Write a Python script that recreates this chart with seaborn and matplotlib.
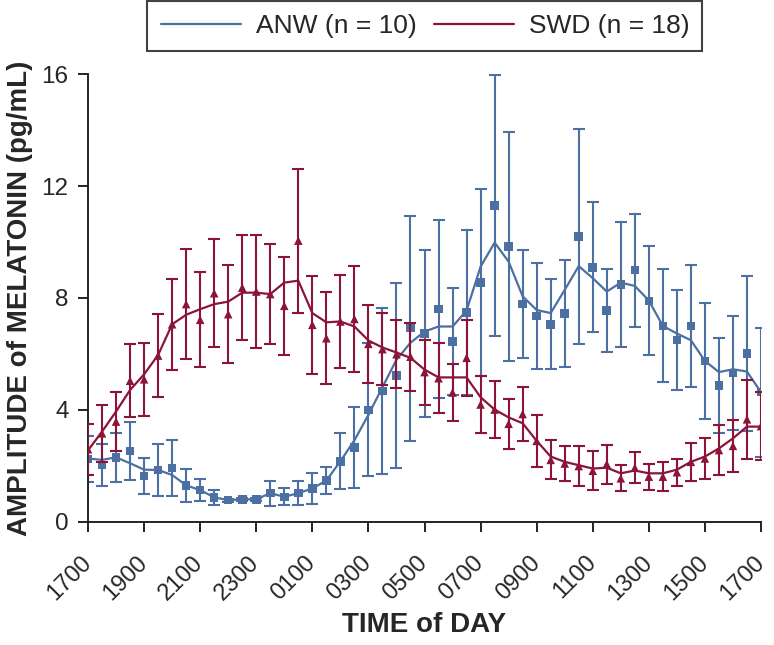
import numpy as np
import pandas as pd
import matplotlib
matplotlib.use("Agg")
import matplotlib.pyplot as plt
import seaborn as sns

# ---------------- data ----------------
tick_labels = ["1700", "1900", "2100", "2300", "0100", "0300", "0500",
               "0700", "0900", "1100", "1300", "1500", "1700"]
# half-hour samples from 1700 to 1700 next day (49 points)
anw_mean = [2.24, 2.03, 2.30, 2.53, 1.63, 1.85, 1.92, 1.29, 1.13, 0.87,
            0.77, 0.80, 0.80, 1.02, 0.89, 1.02, 1.19, 1.47, 2.16, 2.65,
            4.00, 4.67, 5.22, 6.92, 6.73, 7.60, 6.44, 7.49, 8.56, 11.31,
            9.84, 7.78, 7.36, 7.06, 7.45, 10.20, 9.10, 7.55, 8.49, 9.00,
            7.90, 7.00, 6.49, 7.00, 5.75, 4.87, 5.32, 6.01, 4.63]
anw_sem = [0.82, 0.76, 0.88, 1.04, 0.64, 0.92, 0.99, 0.60, 0.38, 0.27,
           0.05, 0.05, 0.05, 0.45, 0.30, 0.42, 0.55, 0.49, 1.00, 1.45,
           2.38, 2.98, 3.31, 4.02, 2.98, 3.18, 1.91, 2.95, 3.34, 4.68,
           4.11, 1.94, 1.90, 1.61, 1.92, 3.83, 2.33, 1.47, 2.24, 2.02,
           1.95, 2.02, 1.79, 2.19, 2.07, 1.71, 2.03, 2.77, 2.30]
anw_fit = [2.26, 2.21, 2.30, 2.09, 1.86, 1.85, 1.67, 1.30, 1.13, 0.87,
           0.77, 0.80, 0.80, 1.02, 0.89, 1.02, 1.19, 1.47, 2.16, 2.91,
           3.82, 4.81, 5.79, 6.40, 6.80, 6.98, 6.98, 7.55, 9.12, 9.98,
           9.30, 8.06, 7.57, 7.46, 8.29, 9.14, 8.71, 8.23, 8.55, 8.43,
           7.91, 7.00, 6.73, 6.49, 5.75, 5.35, 5.45, 5.37, 4.63]

swd_mean = [2.59, 3.16, 3.58, 5.04, 5.09, 5.94, 7.06, 7.78, 7.22, 8.17,
            7.42, 8.37, 8.23, 8.14, 7.72, 10.05, 7.04, 6.56, 7.16, 7.25,
            6.36, 6.17, 5.99, 5.90, 5.35, 5.13, 4.62, 5.86, 4.19, 4.01,
            3.50, 3.85, 2.89, 2.21, 2.08, 1.99, 1.82, 2.06, 1.55, 1.93,
            1.61, 1.61, 1.77, 2.14, 2.26, 2.56, 2.71, 3.66, 3.42]
swd_sem = [0.91, 1.03, 1.06, 1.31, 1.31, 1.49, 1.62, 1.96, 1.70, 1.93,
           1.76, 1.87, 2.02, 1.78, 1.75, 2.58, 1.75, 1.65, 1.66, 1.91,
           1.40, 1.28, 1.21, 1.22, 1.16, 1.26, 1.03, 1.37, 1.02, 1.03,
           0.90, 0.95, 0.94, 0.70, 0.61, 0.70, 0.69, 0.70, 0.47, 0.55,
           0.46, 0.51, 0.48, 0.69, 0.73, 0.89, 0.92, 1.42, 1.23]
swd_fit = [2.55, 3.22, 3.94, 4.71, 5.27, 5.96, 7.06, 7.40, 7.60, 7.78,
           7.87, 8.19, 8.19, 8.14, 8.55, 8.62, 7.46, 7.13, 7.16, 6.98,
           6.48, 6.23, 6.05, 5.86, 5.44, 5.16, 5.16, 5.16, 4.45, 4.01,
           3.73, 3.52, 2.89, 2.33, 2.14, 2.02, 1.90, 1.93, 1.73, 1.83,
           1.73, 1.73, 1.86, 2.14, 2.33, 2.62, 2.98, 3.40, 3.40]

labels = ["ANW (n = 10)", "SWD (n = 18)"]
colors = {"ANW (n = 10)": "#4d70a3", "SWD (n = 18)": "#8c1438"}

hours = np.arange(len(anw_mean)) * 0.5

df_fit = pd.DataFrame({
    "hour": np.concatenate([hours, hours]),
    "value": anw_fit + swd_fit,
    "group": [labels[0]] * len(hours) + [labels[1]] * len(hours),
})
df_pts = pd.DataFrame({
    "hour": np.concatenate([hours, hours]),
    "value": anw_mean + swd_mean,
    "sem": anw_sem + swd_sem,
    "group": [labels[0]] * len(hours) + [labels[1]] * len(hours),
})

# ---------------- plot ----------------
sns.set_style("ticks")
plt.rcParams["font.family"] = ["Liberation Sans", "DejaVu Sans"]

fig = plt.figure(figsize=(7.74, 6.45), dpi=100)
ax = fig.add_axes([0.1137, 0.1912, 0.8695, 0.6936])

markers = {labels[0]: "s", labels[1]: "^"}
for g in labels:
    sub = df_pts[df_pts["group"] == g]
    ax.errorbar(sub["hour"], sub["value"], yerr=sub["sem"], fmt="none",
                ecolor=colors[g], elinewidth=1.5, capsize=4.5, capthick=1.5,
                zorder=2 if g == labels[0] else 4)
    sns.lineplot(data=df_fit[df_fit["group"] == g], x="hour", y="value",
                 color=colors[g], linewidth=1.6, ax=ax, label=g,
                 zorder=2 if g == labels[0] else 4)
    sns.scatterplot(data=sub, x="hour", y="value", color=colors[g],
                    marker=markers[g], s=38, edgecolor="none", ax=ax,
                    zorder=3 if g == labels[0] else 5)

ax.set_xlim(0, 24)
ax.set_ylim(0, 16)
ax.set_xticks(np.arange(0, 25, 2))
ax.set_xticklabels(tick_labels, rotation=45, ha="right", va="center",
                   rotation_mode="anchor", fontsize=17)
ax.set_yticks([0, 4, 8, 12, 16])
ax.set_yticklabels(["0", "4", "8", "12", "16"], fontsize=17.5)
ax.tick_params(axis="both", length=7, width=1.4, color="#222222")
ax.tick_params(axis="y", pad=7)
ax.tick_params(axis="x", pad=20)
for s in ["left", "bottom"]:
    ax.spines[s].set_linewidth(1.4)
    ax.spines[s].set_color("#222222")
sns.despine(ax=ax)

lab_font = dict(family=["Liberation Sans Narrow", "Liberation Sans", "DejaVu Sans"],
                fontweight="bold", fontsize=20)
ax.set_xlabel("TIME of DAY", labelpad=6, **lab_font)
ax.set_ylabel("AMPLITUDE of MELATONIN (pg/mL)", labelpad=6, **lab_font)

handles, lbls = ax.get_legend_handles_labels()
leg = fig.legend(handles[:2], lbls[:2], loc="center", ncol=2,
                 bbox_to_anchor=(0.549, 0.960), bbox_transform=fig.transFigure,
                 frameon=True, fancybox=False, fontsize=19, handlelength=3.05,
                 columnspacing=0.65, handletextpad=0.55, borderpad=0.5,
                 borderaxespad=0.0)
leg.get_frame().set_edgecolor("#111111")
leg.get_frame().set_linewidth(1.5)
leg._legend_box.sep = 4
ax.get_legend().remove()

fig.savefig("out.png", dpi=100)
